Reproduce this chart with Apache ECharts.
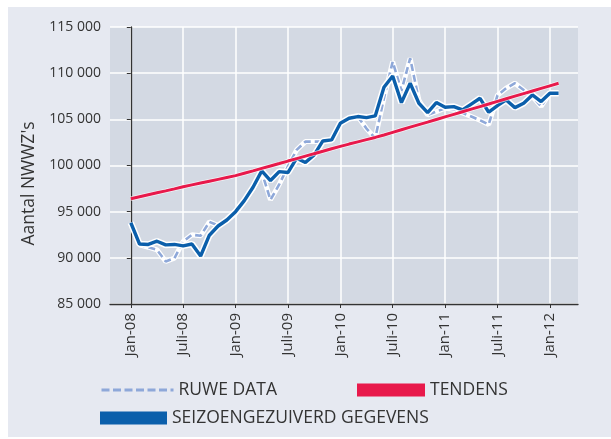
<!DOCTYPE html>
<html>
<head>
<meta charset="utf-8">
<script src="https://cdn.jsdelivr.net/npm/echarts@6/dist/echarts.min.js"></script>
<style>
  html, body { margin: 0; padding: 0; background: #ffffff; }
  #chart { width: 611px; height: 439px; }
</style>
</head>
<body>
<div id="chart"></div>
<script>
// Month index 0 = Jan 2008 ... 49 = Feb 2012
const months = [
  '2008-01','2008-02','2008-03','2008-04','2008-05','2008-06','2008-07','2008-08','2008-09','2008-10','2008-11','2008-12',
  '2009-01','2009-02','2009-03','2009-04','2009-05','2009-06','2009-07','2009-08','2009-09','2009-10','2009-11','2009-12',
  '2010-01','2010-02','2010-03','2010-04','2010-05','2010-06','2010-07','2010-08','2010-09','2010-10','2010-11','2010-12',
  '2011-01','2011-02','2011-03','2011-04','2011-05','2011-06','2011-07','2011-08','2011-09','2011-10','2011-11','2011-12',
  '2012-01','2012-02'
];

const rawData = [
  93800, 91400, 91150, 90870, 89600, 89970, 91770, 92500, 92390, 93900, 93500, 94000,
  94800, 96100, 97500, 99300, 96280, 97950, 99900, 101690, 102590, 102590, 102600, 102770,
  104580, 105120, 105300, 104000, 102960, 107300, 111250, 108100, 111610, 107100, 105480, 105840,
  106200, 106100, 105700, 105300, 104900, 104450, 107600, 108370, 108910, 108180, 107460, 106400,
  107820, 107820
];

const adjustedData = [
  93800, 91500, 91450, 91800, 91400, 91450, 91300, 91500, 90200, 92450, 93450, 94100,
  95000, 96200, 97650, 99420, 98370, 99340, 99240, 100790, 100320, 101150, 102660, 102770,
  104580, 105120, 105300, 105190, 105370, 108470, 109700, 106810, 108910, 106740, 105730, 106810,
  106310, 106380, 106020, 106650, 107280, 105770, 106490, 107100, 106270, 106740, 107640, 106920,
  107820, 107820
];

const trendData = [
  96400, 96620, 96830, 97040, 97250, 97470, 97700, 97900, 98100, 98300, 98500, 98700,
  98900, 99160, 99420, 99690, 99950, 100210, 100480, 100740, 101010, 101280, 101540, 101810,
  102070, 102320, 102560, 102800, 103040, 103310, 103590, 103870, 104150, 104430, 104700, 104980,
  105260, 105540, 105820, 106100, 106380, 106660, 106950, 107230, 107510, 107790, 108070, 108350,
  108630, 108910
];

const tickMonths = [0, 6, 12, 18, 24, 30, 36, 42, 48];
const tickLabels = ['Jan-08', 'Juli-08', 'Jan-09', 'Juli-09', 'Jan-10', 'Juli-10', 'Jan-11', 'Juli-11', 'Jan-12'];

const seriesNames = ['RUWE DATA', 'TENDENS', 'SEIZOENGEZUIVERD GEGEVENS'];

function pairs(arr) { return arr.map((v, i) => [i, v]); }
function fmt(v) { return String(v).replace(/\B(?=(\d{3})+(?!\d))/g, ' '); }

const FONT = '"Open Sans", "DejaVu Sans", sans-serif';
const TEXT = '#333333';
const BLUE = '#0b5fab';
const LIGHT = '#8ea8d9';
const RED = '#e8194b';
const LEGEND_TEXT = { fontFamily: FONT, fontSize: 17.5, color: TEXT };

const chart = echarts.init(document.getElementById('chart'), null, { renderer: 'canvas' });

chart.setOption({
  animation: false,
  backgroundColor: '#ffffff',
  graphic: [{
    type: 'rect', z: -10, silent: true,
    shape: { x: 8, y: 7, width: 603, height: 430 },
    style: { fill: '#e6e9f1' }
  }],
  grid: {
    left: 110, right: 33, top: 27, bottom: 135,
    show: true, backgroundColor: '#d3d9e3', borderWidth: 0
  },
  xAxis: {
    type: 'value', min: -2.383, max: 51.226,
    axisLine: { show: true, onZero: false, lineStyle: { color: '#333', width: 1.3 } },
    axisTick: { show: true, customValues: tickMonths, length: 4, lineStyle: { color: '#333', width: 1 } },
    axisLabel: {
      customValues: tickMonths, rotate: 90, margin: 9,
      formatter: v => tickLabels[tickMonths.indexOf(v)],
      fontFamily: FONT, fontSize: 15, color: TEXT
    },
    splitLine: { show: true, lineStyle: { color: '#ffffff', width: 1.5 } }
  },
  yAxis: {
    type: 'value', min: 85000, max: 115000, interval: 5000,
    name: "Aantal NWWZ's", nameLocation: 'middle', nameGap: 72, nameRotate: 90,
    nameTextStyle: { fontFamily: FONT, fontSize: 17.5, color: TEXT, padding: [0, 36, 0, 0] },
    axisLine: { show: true, lineStyle: { color: '#333', width: 1.3 } },
    axisTick: { show: true, length: 4, lineStyle: { color: '#333' } },
    axisLabel: { formatter: fmt, margin: 9, fontFamily: FONT, fontSize: 14, color: TEXT },
    splitLine: { show: true, lineStyle: { color: '#ffffff', width: 1.5 } }
  },
  legend: [
    {
      data: [{ name: seriesNames[0], itemStyle: { opacity: 0 } }], left: 95, top: 376,
      itemWidth: 72, itemHeight: 16, itemGap: 0,
      lineStyle: { width: 3, type: [8, 3.5] },
      textStyle: LEGEND_TEXT
    },
    {
      data: [{ name: seriesNames[1], icon: 'rect' }], left: 352, top: 376,
      itemWidth: 68, itemHeight: 13, itemGap: 0,
      textStyle: LEGEND_TEXT
    },
    {
      data: [{ name: seriesNames[2], icon: 'rect' }], left: 95, top: 404,
      itemWidth: 67, itemHeight: 13, itemGap: 0,
      textStyle: LEGEND_TEXT
    }
  ],
  series: [
    {
      name: 'raw-halo', type: 'line', data: pairs(rawData), symbol: 'none', silent: true,
      lineStyle: { color: '#ffffff', width: 5 }, z: 2
    },
    {
      name: seriesNames[0], type: 'line', data: pairs(rawData), symbol: 'none', color: LIGHT,
      lineStyle: { color: LIGHT, width: 2.6, type: [7, 4] }, z: 3
    },
    {
      name: 'adj-halo', type: 'line', data: pairs(adjustedData), symbol: 'none', silent: true,
      lineStyle: { color: '#ffffff', width: 6.5 }, z: 4
    },
    {
      name: seriesNames[2], type: 'line', data: pairs(adjustedData), symbol: 'none', color: BLUE,
      lineStyle: { color: BLUE, width: 3.4 }, z: 5
    },
    {
      name: 'trend-halo', type: 'line', data: pairs(trendData), symbol: 'none', silent: true,
      lineStyle: { color: '#ffffff', width: 4.5, opacity: 0.7 }, z: 6
    },
    {
      name: seriesNames[1], type: 'line', data: pairs(trendData), symbol: 'none', color: RED,
      lineStyle: { color: RED, width: 3 }, z: 7
    }
  ]
});
</script>
</body>
</html>
